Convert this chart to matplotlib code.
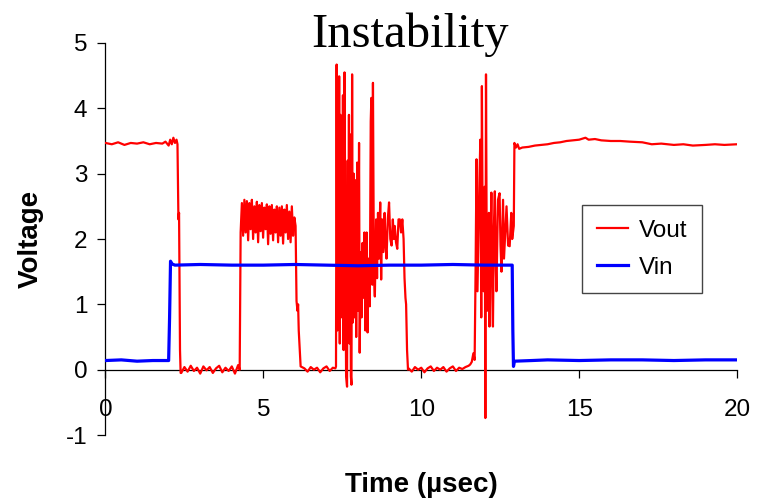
import numpy as np
import matplotlib
matplotlib.use("Agg")
import matplotlib.pyplot as plt

plt.rcParams['font.family'] = ['Liberation Sans', 'DejaVu Sans']
plt.rcParams['axes.unicode_minus'] = False

# --- Vout (red) ---
# high level before input step
vout_t1 = [0.0, 0.2, 0.4, 0.6, 0.8, 1.0, 1.2, 1.4, 1.6, 1.8, 1.9, 2.0, 2.05, 2.1, 2.15, 2.2, 2.25,
           2.28, 2.31, 2.33, 2.36, 2.38]
vout_v1 = [3.47, 3.45, 3.48, 3.44, 3.47, 3.46, 3.48, 3.45, 3.47, 3.46, 3.49, 3.43, 3.52, 3.45, 3.55, 3.47, 3.52,
           3.45, 2.3, 2.4, 0.3, -0.05]

# low level 2.4 - 4.25 us
vout_t2 = [2.4, 2.5, 2.6, 2.7, 2.8, 2.9, 3.0, 3.1, 3.2, 3.3, 3.4, 3.5, 3.6, 3.7, 3.8, 3.9, 4.0, 4.1, 4.2, 4.25]
vout_v2 = [-0.05, 0.04, -0.03, 0.06, -0.02, 0.03, -0.06, 0.05, -0.01, 0.04, -0.05, 0.02, 0.06, -0.04, 0.03,
           -0.02, 0.05, -0.06, 0.07, 0.0]

# noisy plateau 4.28 - 6.02 us (evenly sampled)
vout_v3 = [2.1, 2.55, 2.05, 2.6, 2.1, 2.58, 1.98, 2.55, 2.15, 2.6, 2.0, 2.5, 2.1, 2.57, 1.95, 2.52, 2.12, 2.55,
           2.02, 2.48, 2.15, 2.53, 1.92, 2.5, 2.08, 2.52, 1.98, 2.45, 2.1, 2.5, 1.95, 2.48, 2.05, 2.5, 1.93,
           2.45, 2.1, 2.52, 2.0, 2.42, 1.95, 2.5, 2.05, 2.33, 2.2]
vout_t3 = np.linspace(4.28, 6.02, len(vout_v3))

# fall and low level 6.05 - 7.28 us
vout_t4 = [6.05, 6.08, 6.1, 6.12, 6.18, 6.3, 6.4, 6.5, 6.6, 6.7, 6.8, 6.9, 7.0, 7.1, 7.2, 7.28]
vout_v4 = [1.05, 0.9, 1.0, 0.6, 0.05, 0.02, -0.03, 0.04, 0.0, 0.03, -0.04, 0.02, 0.05, -0.02, 0.03, 0.02]

# first burst 7.3 - 9.58 us
vout_t5 = [7.30, 7.32, 7.34, 7.36, 7.38, 7.40, 7.42, 7.44, 7.46, 7.48, 7.50, 7.52, 7.54, 7.57, 7.60, 7.62,
           7.65, 7.67, 7.69, 7.71, 7.73, 7.75, 7.77, 7.79, 7.81, 7.83, 7.86, 7.88, 7.91, 7.94, 7.97, 8.00,
           8.03, 8.05, 8.08, 8.11, 8.14, 8.17, 8.20, 8.23, 8.27, 8.30, 8.33, 8.37, 8.40, 8.42, 8.45, 8.47,
           8.50, 8.53, 8.57, 8.60, 8.63, 8.66, 8.70, 8.73, 8.76, 8.80, 8.84, 8.87, 8.90, 8.94, 8.98, 9.02,
           9.06, 9.10, 9.13, 9.16, 9.20, 9.24, 9.28, 9.32, 9.36, 9.40, 9.44, 9.47, 9.50, 9.52, 9.55, 9.58]
vout_v5 = [0.05, 4.67, 0.6, 4.3, 0.9, 4.49, 0.4, 3.9, 0.8, 3.83, 1.2, 4.2, 0.3, 4.55, 1.5, -0.1,
           -0.26, 3.2, 0.9, 3.9, 0.4, 3.6, -0.1, -0.23, 4.52, 0.72, 3.0, 0.8, 2.9, 0.5, 3.17, 0.9,
           3.47, 0.26, 1.8, 0.8, 1.94, 1.1, 2.1, 0.6, 2.1, 0.57, 1.7, 0.97, 3.8, 4.16, 1.3, 4.39,
           1.5, 1.12, 2.3, 1.4, 2.4, 1.7, 2.56, 1.38, 2.3, 1.8, 2.4, 1.9, 1.7, 2.3, 2.56, 2.0,
           1.9, 2.3, 2.0, 2.2, 1.95, 1.85, 2.3, 2.3, 2.1, 2.3, 2.0, 1.4, 1.1, 1.0, 0.3, 0.0]

# low level 9.6 - 11.65 us
vout_t6 = [9.6, 9.7, 9.8, 9.9, 10.0, 10.1, 10.2, 10.3, 10.4, 10.5, 10.6, 10.7, 10.8, 10.9, 11.0, 11.1,
           11.2, 11.3, 11.4, 11.5, 11.55, 11.6, 11.65]
vout_v6 = [0.02, -0.03, 0.04, 0.0, 0.03, -0.04, 0.02, 0.05, -0.02, 0.03, 0.0, 0.04, -0.03, 0.02, 0.05,
           -0.02, 0.03, 0.01, 0.04, 0.06, 0.08, 0.12, 0.25]

# second burst 11.69 - 12.95 us
vout_t7 = [11.69, 11.72, 11.75, 11.78, 11.80, 11.83, 11.87, 11.90, 11.92, 11.95, 11.98, 12.01, 12.03,
           12.05, 12.08, 12.11, 12.14, 12.16, 12.19, 12.22, 12.25, 12.27, 12.30, 12.33, 12.36, 12.38,
           12.43, 12.48, 12.51, 12.54, 12.59, 12.62, 12.64, 12.70, 12.75, 12.80, 12.85, 12.88, 12.93,
           12.95]
vout_v7 = [0.15, 1.5, 3.22, 1.2, 1.79, 2.6, 3.52, 0.8, 4.34, 1.6, 1.2, 2.8, -0.74,
           4.52, 0.9, 1.45, 2.4, 0.66, 1.8, 2.71, 1.1, 0.66, 2.2, 2.73, 1.6, 1.2,
           2.6, 2.7, 1.9, 1.5, 2.6, 1.7, 1.9, 2.5, 1.9, 1.89, 2.4, 2.0, 2.2,
           3.47]

# high level after the input step
vout_t8 = [13.0, 13.05, 13.1, 13.2, 13.4, 13.6, 13.8, 14.0, 14.2, 14.4, 14.6, 14.8, 15.0, 15.2, 15.3,
           15.5, 15.7, 16.0, 16.3, 16.6, 17.0, 17.3, 17.6, 18.0, 18.3, 18.6, 19.0, 19.3, 19.6, 20.0]
vout_v8 = [3.40, 3.45, 3.38, 3.40, 3.41, 3.43, 3.44, 3.45, 3.47, 3.48, 3.50, 3.51, 3.52, 3.55, 3.52,
           3.53, 3.51, 3.50, 3.50, 3.49, 3.48, 3.45, 3.46, 3.44, 3.45, 3.43, 3.44, 3.45, 3.44, 3.45]

# --- Vin (blue) ---
vin_t = [0.0, 0.5, 1.0, 1.5, 2.0, 2.03, 2.06, 2.1, 2.2, 3.0, 4.0, 5.0, 6.0, 7.0, 8.0, 9.0, 10.0, 11.0,
         12.0, 12.88, 12.9, 12.92, 12.95, 13.5, 14.0, 15.0, 16.0, 17.0, 18.0, 19.0, 20.0]
vin_v = [0.14, 0.15, 0.13, 0.14, 0.14, 0.8, 1.66, 1.62, 1.60, 1.61, 1.60, 1.60, 1.61, 1.60, 1.59, 1.60,
         1.60, 1.61, 1.60, 1.60, 0.6, 0.05, 0.13, 0.14, 0.15, 0.14, 0.15, 0.15, 0.14, 0.15, 0.15]

vout_t = np.concatenate([vout_t1, vout_t2, vout_t3, vout_t4, vout_t5, vout_t6, vout_t7, vout_t8])
vout_v = np.concatenate([vout_v1, vout_v2, vout_v3, vout_v4, vout_v5, vout_v6, vout_v7, vout_v8])

x_ticks = [0, 5, 10, 15, 20]
y_ticks = [-1, 0, 1, 2, 3, 4, 5]

fig = plt.figure(figsize=(7.66, 5.01), dpi=100)
ax = fig.add_axes([0.1377, 0.1317, 0.8245, 0.7825])

ax.plot(vout_t, vout_v, color='#FF0000', linewidth=1.6, label='Vout', zorder=3)
ax.plot(vin_t, vin_v, color='#0000FF', linewidth=2.3, label='Vin', zorder=4)

ax.set_xlim(0, 20)
ax.set_ylim(-1, 5)
ax.set_xticks(x_ticks)
ax.set_yticks(y_ticks)

ax.spines['top'].set_visible(False)
ax.spines['right'].set_visible(False)
ax.spines['bottom'].set_position(('data', 0))
for s in ['left', 'bottom']:
    ax.spines[s].set_linewidth(0.9)
    ax.spines[s].set_color('black')

ax.tick_params(axis='both', direction='out', length=6, width=0.9, labelsize=17.5)
ax.tick_params(axis='x', pad=15)
ax.tick_params(axis='y', pad=7)

ax.set_xlabel('Time (\u00b5sec)', fontsize=20, fontweight='bold')
ax.set_ylabel('Voltage', fontsize=20, fontweight='bold')
ax.xaxis.set_label_coords(0.5, -0.095)
ax.yaxis.set_label_coords(-0.097, 0.5)

leg = ax.legend(loc='upper left', bbox_to_anchor=(0.7546, 0.5867), borderaxespad=0,
                fontsize=17.5, fancybox=False, handlelength=1.3, handletextpad=0.45,
                borderpad=0.6, labelspacing=0.62, framealpha=1)
leg.get_frame().set_edgecolor('#444444')
leg.get_frame().set_linewidth(1.0)

fig.text(410 / 766, 1 - 47 / 501, 'Instability', ha='center', va='baseline',
         fontsize=35, family='Liberation Serif')

fig.savefig('out.png', dpi=100)
